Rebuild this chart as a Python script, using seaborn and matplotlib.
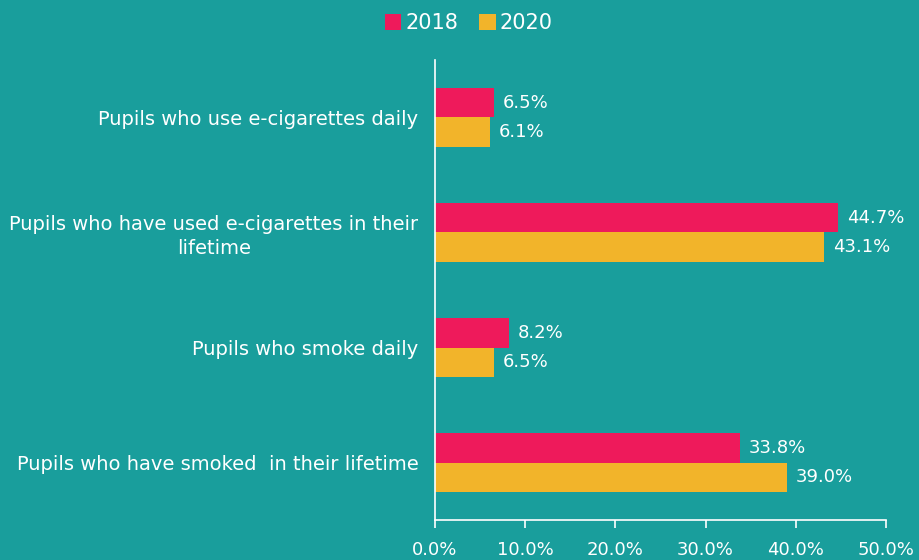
import matplotlib
matplotlib.use("Agg")
import matplotlib.pyplot as plt
import seaborn as sns
import pandas as pd
from matplotlib.ticker import PercentFormatter
from matplotlib.patches import Patch

categories = [
    "Pupils who use e-cigarettes daily",
    "Pupils who have used e-cigarettes in their\nlifetime",
    "Pupils who smoke daily",
    "Pupils who have smoked  in their lifetime",
]
values_2018 = [6.5, 44.7, 8.2, 33.8]
values_2020 = [6.1, 43.1, 6.5, 39.0]
years = ["2018", "2020"]
xticks = [0, 10, 20, 30, 40, 50]

bg = "#199E9C"
colors = {"2018": "#EE1A5B", "2020": "#F2B42A"}

df = pd.DataFrame({
    "category": categories * 2,
    "value": values_2018 + values_2020,
    "year": [years[0]] * len(categories) + [years[1]] * len(categories),
})

sns.set_theme(style="white")
plt.rcParams["font.family"] = ["DejaVu Sans"]

fig = plt.figure(figsize=(9.19, 5.6), dpi=100, facecolor=bg)
ax = fig.add_axes([0.4733, 0.0714, 0.4908, 0.8215])
ax.set_facecolor(bg)

sns.barplot(data=df, y="category", x="value", hue="year", order=categories,
            hue_order=years, palette=colors, orient="h", width=0.52,
            saturation=1, ax=ax, legend=False, linewidth=0)

for container in ax.containers:
    ax.bar_label(container, labels=[f"{v:.1f}%" for v in container.datavalues],
                 padding=6.5, color="white", fontsize=13)

ax.set_xlim(0, 50)
ax.set_ylim(3.5, -0.5)
ax.set_xticks(xticks)
ax.xaxis.set_major_formatter(PercentFormatter(decimals=1))
ax.set_xlabel("")
ax.set_ylabel("")
ax.tick_params(axis="x", colors="white", labelsize=13, length=6, width=1.2,
               direction="out", bottom=True, pad=9)
ax.tick_params(axis="y", colors="white", labelsize=14, length=0, pad=12)
for lbl in ax.get_yticklabels():
    lbl.set_multialignment("center")
    lbl.set_linespacing(1.3)

for side in ["top", "right"]:
    ax.spines[side].set_visible(False)
for side in ["left", "bottom"]:
    ax.spines[side].set_color("white")
    ax.spines[side].set_linewidth(1.2)

handles = [Patch(facecolor=colors[y], edgecolor="none", label=y) for y in years]
fig.legend(handles=handles, loc="upper center", bbox_to_anchor=(0.51, 1.01),
           ncol=2, frameon=False, fontsize=15, labelcolor="white",
           handlelength=0.8, handleheight=0.8, handletextpad=0.2,
           columnspacing=1.0)

fig.savefig("out.png", dpi=100, facecolor=bg)
